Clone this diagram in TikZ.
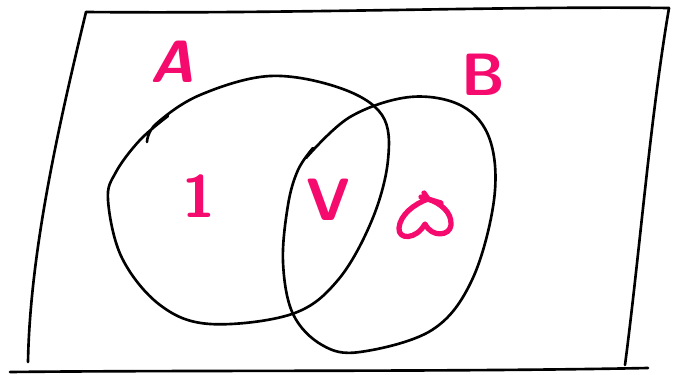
\documentclass[tikz,border=0pt]{standalone}
\usepackage{tikz}
\usetikzlibrary{positioning}
\definecolor{pinkish}{RGB}{245,10,110}

\begin{document}
\begin{tikzpicture}[x=0.02cm, y=-0.02cm, line cap=round, line join=round,
    every node/.style={text=pinkish, font=\sffamily\bfseries\fontsize{34}{38}\selectfont, inner sep=0pt},
    pen/.style={line width=1.5pt, black},
    ink/.style={line width=3pt, pinkish}]
    \useasboundingbox (0,0) rectangle (673,375);

    % Frame
    \draw[pen] (86,12) .. controls (300,14) and (500,6) .. (669,8);
    \draw[pen] (86,12) .. controls (60,120) and (30,250) .. (28,362);
    \draw[pen] (669,8) .. controls (650,120) and (640,250) .. (625,365);
    \draw[pen] (10,372) .. controls (200,370) and (450,372) .. (648,368);

    % Sets
    \draw[pen] plot[smooth, tension=0.6] coordinates {(147,142) (156,124) (200,95) (270,76) (340,88) (382,115) (388,160) (372,220) (338,280) (292,314) (210,324) (160,305) (122,258) (108,200) (116,172) (140,140) (168,116)};
    \draw[pen] plot[smooth, tension=0.6] coordinates {(306,158) (350,117) (410,97) (462,106) (490,140) (494,200) (472,280) (432,330) (360,352) (322,345) (293,314) (283,262) (288,205) (298,170) (313,148)};

    % Labels
    \node (L_A) at (172,62) {\itshape A};
    \node (L_B) at (483,75) {B};
    \node (L_1) at (199,196) {1};
    \node (L_V) at (328,200) {V};

    % Only B
    \draw[ink] (428,199) .. controls (414,204) and (400,215) .. (399,228) .. controls (398,240) and (416,240) .. (425,224) .. controls (432,238) and (450,236) .. (451,225) .. controls (452,212) and (440,203) .. (428,199);
    \draw[ink] (421,197) -- (441,203);
    \draw[ink] (424,193) -- (428,199);
\end{tikzpicture}
\end{document}
